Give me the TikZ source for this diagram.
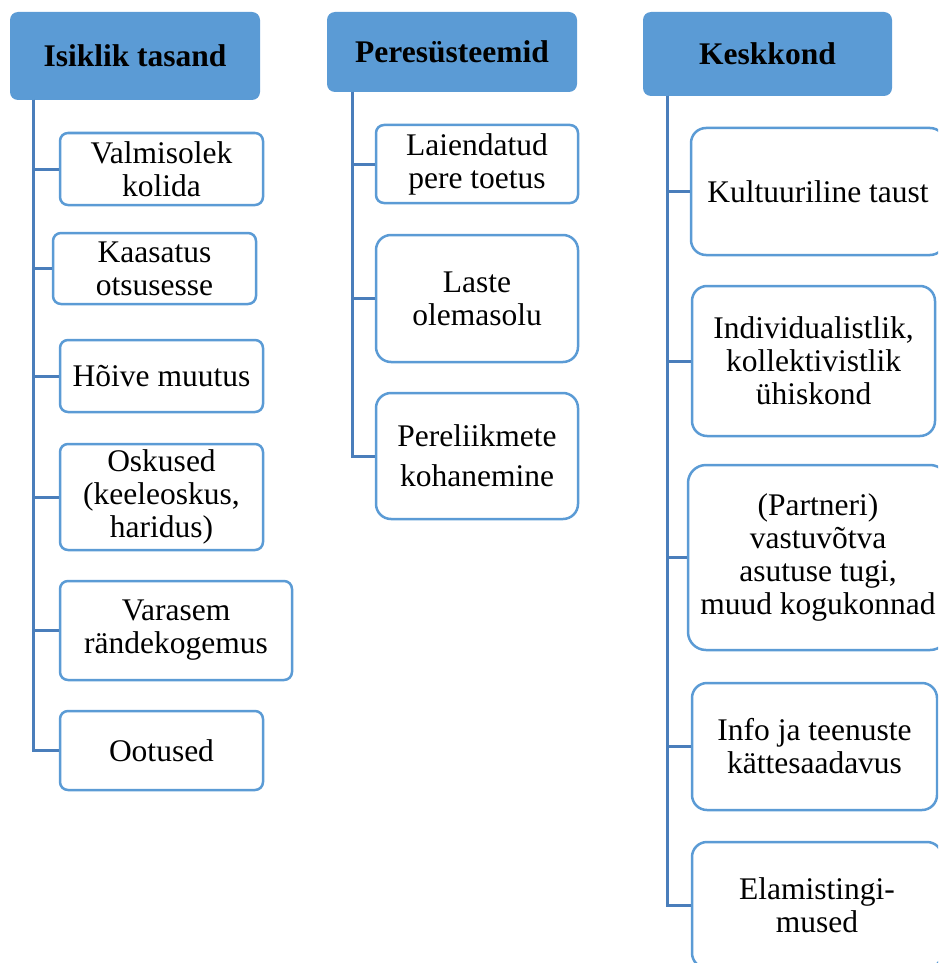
\documentclass[tikz,border=0pt]{standalone}
\usepackage{fontspec}
\setmainfont{Liberation Serif}
\usepackage{tikz}
\usetikzlibrary{positioning}
\definecolor{headblue}{HTML}{5B9BD5}
\definecolor{lineblue}{HTML}{4A7EBB}
\tikzstyle{head} = [rectangle, rounded corners=8pt, text centered, fill=headblue, inner sep=0pt, font=\fontsize{31.5}{33}\selectfont\bfseries]
\tikzstyle{item} = [rectangle, rounded corners=8pt, align=center, draw=headblue, line width=2.5pt, fill=white, inner sep=0pt, font=\fontsize{31.5}{33}\selectfont]
\tikzstyle{tall} = [item, rounded corners=15pt]
\tikzstyle{branch} = [line width=3pt, lineblue]

\begin{document}
\begin{tikzpicture}[x=1pt, y=-1pt]

    \clip (0,0) rectangle (938,963);

    % column 1
    \node (isiklik) [head, minimum width=250pt, minimum height=88pt] at (135,56) {Isiklik tasand};
    \node (valmis) [item, minimum width=203pt, minimum height=72pt] at (161.5,169) {Valmisolek\\kolida};
    \node (kaasatus) [item, minimum width=203pt, minimum height=71pt] at (154.5,268.5) {Kaasatus\\otsusesse};
    \node (hoive) [item, minimum width=203pt, minimum height=72pt] at (161.5,376) {Hõive muutus};
    \node (oskused) [item, minimum width=203pt, minimum height=106pt] at (161.5,497) {Oskused\\(keeleoskus,\\haridus)};
    \node (varasem) [item, minimum width=232pt, minimum height=99pt] at (176,630.5) {Varasem\\rändekogemus};
    \node (ootused) [item, minimum width=203pt, minimum height=79pt] at (161.5,750.5) {Ootused};

    \coordinate (trunk1) at (33,100);
    \foreach \n in {valmis, kaasatus, hoive, oskused, varasem, ootused}
        \draw [branch] (trunk1) |- (\n.west);

    % column 2
    \node (pere) [head, minimum width=250pt, minimum height=80pt] at (452,52) {Peresüsteemid};
    \node (laiendatud) [item, minimum width=202pt, minimum height=78pt] at (477,164) {Laiendatud\\pere toetus};
    \node (laste) [tall, minimum width=202pt, minimum height=127pt] at (477,298.5) {Laste\\olemasolu};
    \node (liikmed) [tall, minimum width=202pt, minimum height=126pt, font=\fontsize{31.5}{40}\selectfont] at (477,456) {Pereliikmete\\kohanemine};

    \coordinate (trunk2) at (352,92);
    \foreach \n in {laiendatud, laste, liikmed}
        \draw [branch] (trunk2) |- (\n.west);

    % column 3
    \node (keskkond) [head, minimum width=249pt, minimum height=84pt] at (767.5,54) {Keskkond};
    \node (kultuur) [tall, minimum width=254pt, minimum height=127pt] at (818,191.5) {Kultuuriline taust};
    \node (yhiskond) [tall, minimum width=243pt, minimum height=150pt] at (813.5,361) {Individualistlik,\\kollektivistlik\\ühiskond};
    \node (partner) [tall, rounded corners=18pt, minimum width=260pt, minimum height=185pt] at (818,557.5) {(Partneri)\\vastuvõtva\\asutuse tugi,\\muud kogukonnad};
    \node (info) [tall, minimum width=245pt, minimum height=127pt] at (814.5,746.5) {Info ja teenuste\\kättesaadavus};
    \node (elamis) [tall, minimum width=250pt, minimum height=126pt] at (817,905) {Elamistingi-\\mused};

    \coordinate (trunk3) at (667,96);
    \foreach \n in {kultuur, yhiskond, partner, info, elamis}
        \draw [branch] (trunk3) |- (\n.west);

\end{tikzpicture}
\end{document}
